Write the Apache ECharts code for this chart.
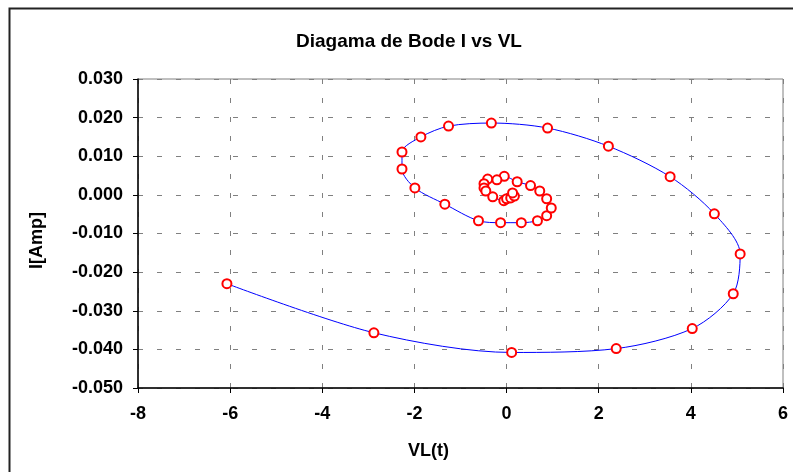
<!DOCTYPE html>
<html>
<head>
<meta charset="utf-8">
<script src="https://cdn.jsdelivr.net/npm/echarts@6/dist/echarts.min.js"></script>
<style>
  html, body { margin: 0; padding: 0; background: #fff; }
  #chart { width: 793px; height: 472px; }
</style>
</head>
<body>
<div id="chart"></div>
<script>
// VL(t) vs I readings, in plotting order (outer spiral inward)
var vl = [
  -6.07, -2.88, 0.11, 2.38, 4.03, 4.92, 5.07, 4.51, 3.55, 2.21,
  0.89, -0.33, -1.26, -1.86, -2.27, -2.27, -1.99, -1.34, -0.61, -0.13,
  0.32, 0.67, 0.87, 0.97, 0.87, 0.72, 0.52, 0.23, -0.05, -0.21,
  -0.41, -0.49, -0.49, -0.45, -0.30, -0.06, 0.0, 0.09, 0.17, 0.13
]
var amp = [
  -0.0230, -0.0357, -0.0408, -0.0398, -0.0346, -0.0256, -0.0153, -0.0049, 0.0047, 0.0126,
  0.0173, 0.0186, 0.0178, 0.0150, 0.0111, 0.0067, 0.0018, -0.0024, -0.0067, -0.0072,
  -0.0072, -0.0067, -0.0054, -0.0034, -0.0010, 0.0010, 0.0024, 0.0034, 0.0048, 0.0039,
  0.0041, 0.0029, 0.0018, 0.0010, -0.0005, -0.0015, -0.0010, -0.0008, -0.0003, 0.0005
]
var title = 'Diagama de Bode I vs VL'
var xName = 'VL(t)'
var yName = 'I[Amp]'

var points = vl.map(function(v, i) { return [v, amp[i]] })

var chart = echarts.init(document.getElementById('chart'))
var labelFont = {
  fontFamily: 'Liberation Sans, Arial, sans-serif',
  fontWeight: 'bold',
  fontSize: 18,
  color: '#000'
}
var gridLine = {
  show: true,
  lineStyle: { color: '#808080', width: 1, type: [5, 14] }
}

chart.setOption({
  backgroundColor: '#fff',
  animation: false,
  title: {
    text: title,
    left: 404,
    top: 27,
    textAlign: 'center',
    textStyle: {
      fontFamily: 'Liberation Sans, Arial, sans-serif',
      fontWeight: 'bold',
      fontSize: 19,
      color: '#000'
    }
  },
  graphic: [{
    type: 'rect',
    left: 7,
    top: 6,
    shape: { width: 820, height: 500 },
    style: { fill: 'none', stroke: '#222', lineWidth: 2 },
    silent: true
  }],
  grid: {
    left: 138,
    right: 10,
    top: 79,
    bottom: 84,
    show: true,
    borderColor: '#808080',
    borderWidth: 1
  },
  xAxis: {
    type: 'value',
    min: -8,
    max: 6,
    interval: 2,
    name: xName,
    nameLocation: 'middle',
    nameGap: 54,
    nameTextStyle: Object.assign({ padding: [0, 64, 0, 0] }, labelFont),
    axisLine: { show: true, onZero: false, lineStyle: { color: '#000', width: 1.5 } },
    axisTick: { show: true, length: 5, lineStyle: { color: '#000' } },
    axisLabel: Object.assign({ margin: 17 }, labelFont),
    splitLine: gridLine
  },
  yAxis: {
    type: 'value',
    min: -0.05,
    max: 0.03,
    interval: 0.01,
    name: yName,
    nameLocation: 'middle',
    nameGap: 92,
    nameTextStyle: Object.assign({ padding: [0, 14, 0, 0] }, labelFont),
    axisLine: { show: true, onZero: false, lineStyle: { color: '#000', width: 1.5 } },
    axisTick: { show: true, length: 5, lineStyle: { color: '#000' } },
    axisLabel: Object.assign({
      margin: 15,
      formatter: function(v) { return v.toFixed(3) }
    }, labelFont),
    splitLine: gridLine
  },
  series: [{
    type: 'line',
    data: points,
    smooth: 0.3,
    symbol: 'circle',
    symbolSize: 9,
    showAllSymbol: true,
    lineStyle: { color: '#0000ff', width: 1 },
    itemStyle: { color: '#fff', borderColor: '#ff0000', borderWidth: 2 }
  }]
})
</script>
</body>
</html>
